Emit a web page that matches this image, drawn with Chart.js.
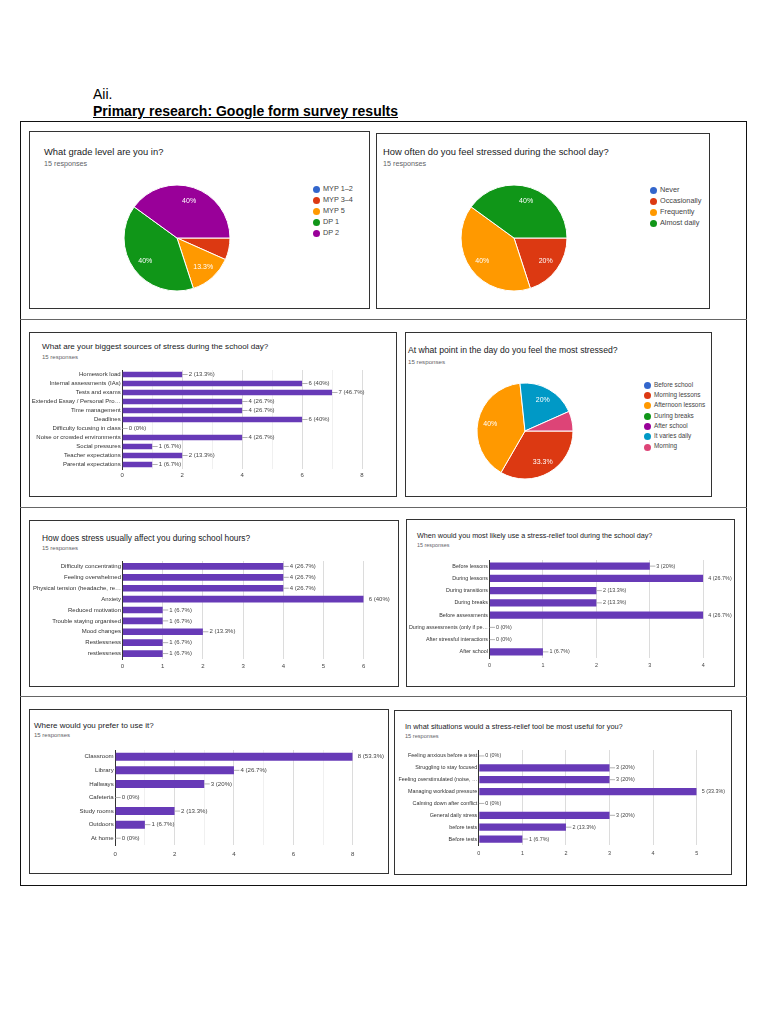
<!DOCTYPE html>
<html>
<head>
<meta charset="utf-8">
<script src="https://cdn.jsdelivr.net/npm/chart.js@4"></script>
<style>
  body { margin: 0; background: #fff; font-family: 'Liberation Sans', Arial, sans-serif; }
  .frame { position: absolute; border: 1.5px solid #111; box-sizing: border-box; }
  .rule { position: absolute; height: 0; border-top: 1.5px solid #666; }
  .box { position: absolute; border: 1.5px solid #333; box-sizing: border-box; background: #fff; }
  .txt { position: absolute; white-space: nowrap; line-height: 1; }
  .ttl { color: #202124; }
  .resp { color: #5f6368; }
  .leg { position: absolute; white-space: nowrap; line-height: 1; color: #444; }
  .dot { position: absolute; border-radius: 50%; }
  canvas { position: absolute; }
</style>
</head>
<body>
<div class="txt" style="left:93px;top:87px;font-size:14px;color:#000">Aii.</div>
<div class="txt" style="left:93px;top:104px;font-size:14px;font-weight:bold;text-decoration:underline;color:#000">Primary research: Google form survey results</div>
<div class="frame" style="left:20px;top:121px;width:727px;height:765px"></div>
<div class="rule" style="left:20px;top:319px;width:727px"></div>
<div class="rule" style="left:20px;top:507px;width:727px"></div>
<div class="rule" style="left:20px;top:696px;width:727px"></div>

<script>
// --- data (15 responses each) ---
const RESPONSES = 15;

const gradeLabels = ['MYP 1–2', 'MYP 3–4', 'MYP 5', 'DP 1', 'DP 2'];
const gradeCounts = [0, 1, 2, 6, 6];

const oftenLabels = ['Never', 'Occasionally', 'Frequently', 'Almost daily'];
const oftenCounts = [0, 3, 6, 6];

const sourceLabels = ['Homework load', 'Internal assessments (IAs)', 'Tests and exams',
  'Extended Essay / Personal Pro…', 'Time management', 'Deadlines', 'Difficulty focusing in class',
  'Noise or crowded environments', 'Social pressures', 'Teacher expectations', 'Parental expectations'];
const sourceCounts = [2, 6, 7, 4, 4, 6, 0, 4, 1, 2, 1];
const sourceTicks = [0, 2, 4, 6, 8];

const whenLabels = ['Before school', 'Morning lessons', 'Afternoon lessons', 'During breaks',
  'After school', 'It varies daily', 'Morning'];
const whenCounts = [0, 5, 6, 0, 0, 3, 1];

const affectLabels = ['Difficulty concentrating', 'Feeling overwhelmed', 'Physical tension (headache, re…',
  'Anxiety', 'Reduced motivation', 'Trouble staying organised', 'Mood changes', 'Restlessness', 'restlessness'];
const affectCounts = [4, 4, 4, 6, 1, 1, 2, 1, 1];
const affectTicks = [0, 1, 2, 3, 4, 5, 6];

const toolTimeLabels = ['Before lessons', 'During lessons', 'During transitions', 'During breaks',
  'Before assessments', 'During assessments (only if pe…', 'After stressful interactions', 'After school'];
const toolTimeCounts = [3, 4, 2, 2, 4, 0, 0, 1];
const toolTimeTicks = [0, 1, 2, 3, 4];

const placeLabels = ['Classroom', 'Library', 'Hallways', 'Cafeteria', 'Study rooms', 'Outdoors', 'At home'];
const placeCounts = [8, 4, 3, 0, 2, 1, 0];
const placeTicks = [0, 2, 4, 6, 8];

const situationLabels = ['Feeling anxious before a test', 'Struggling to stay focused',
  'Feeling overstimulated (noise, …', 'Managing workload pressure', 'Calming down after conflict',
  'General daily stress', 'before tests', 'Before tests'];
const situationCounts = [0, 3, 3, 5, 0, 3, 2, 1];
const situationTicks = [0, 1, 2, 3, 4, 5];

const pieColors = ['#3366cc', '#dc3912', '#ff9900', '#109618', '#990099', '#0099c6', '#dd4477'];
const barColor = '#673ab7';
const FONT = "'Liberation Sans', Arial, sans-serif";

function pct(v) {
  return Math.round(v / RESPONSES * 1000) / 10;
}

function add(cls, html, style) {
  const el = document.createElement('div');
  el.className = cls;
  if (html) el.textContent = html;
  Object.assign(el.style, style);
  document.body.appendChild(el);
  return el;
}

// panel frame + question + "15 responses"
function panel(b) {
  add('box', '', { left: b.x + 'px', top: b.y + 'px', width: b.w + 'px', height: b.h + 'px' });
  add('txt ttl', b.title, { left: b.tx + 'px', top: (b.ty - b.tf / 2) + 'px', fontSize: b.tf + 'px' });
  add('txt resp', RESPONSES + ' responses', { left: b.tx + 'px', top: (b.ry - b.rf / 2) + 'px', fontSize: b.rf + 'px' });
}

function legend(labels, lx, ly, gap, fs) {
  labels.forEach((lab, i) => {
    const y = ly + i * gap;
    add('dot', '', { left: (lx - 3.5) + 'px', top: (y - 3.5) + 'px', width: '7px', height: '7px', background: pieColors[i] });
    add('leg', lab, { left: (lx + 7) + 'px', top: (y - fs / 2 - 0.5) + 'px', fontSize: fs + 'px' });
  });
}

function pieChart(cx, cy, r, labels, counts) {
  const c = document.createElement('canvas');
  const s = 2 * r + 10;
  Object.assign(c.style, { left: (cx - s / 2) + 'px', top: (cy - s / 2) + 'px', width: s + 'px', height: s + 'px' });
  document.body.appendChild(c);
  const labelsPlugin = {
    id: 'sliceLabels',
    afterDatasetsDraw(chart) {
      const ctx = chart.ctx;
      ctx.save();
      ctx.font = '7px ' + FONT;
      ctx.fillStyle = '#fff';
      ctx.textAlign = 'center';
      ctx.textBaseline = 'middle';
      chart.getDatasetMeta(0).data.forEach((arc, i) => {
        if (counts[i] / RESPONSES < 0.1) return;
        const mid = (arc.startAngle + arc.endAngle) / 2;
        const rr = arc.outerRadius * 0.74;
        ctx.fillText(pct(counts[i]) + '%', arc.x + Math.cos(mid) * rr, arc.y + Math.sin(mid) * rr);
      });
      ctx.restore();
    }
  };
  new Chart(c, {
    type: 'pie',
    data: { labels, datasets: [{ data: counts, backgroundColor: pieColors.slice(0, labels.length), borderColor: '#fff', borderWidth: 1, hoverOffset: 0 }] },
    options: {
      responsive: false, animation: false, rotation: 90,
      layout: { padding: 4.5 },
      plugins: { legend: { display: false }, tooltip: { enabled: false } }
    },
    plugins: [labelsPlugin]
  });
}

function barChart(b, g, labels, counts, ticks) {
  const c = document.createElement('canvas');
  const cl = b.x + 1.5, ct = b.y + 2, cw = b.w - 3.5, ch = b.h - 4;
  Object.assign(c.style, { left: cl + 'px', top: ct + 'px', width: cw + 'px', height: ch + 'px' });
  c.width = cw; c.height = ch;
  document.body.appendChild(c);
  const xH = 16;
  const max = ticks[ticks.length - 1];
  const valueLabels = {
    id: 'valueLabels',
    afterDatasetsDraw(chart) {
      const ctx = chart.ctx;
      ctx.save();
      ctx.font = g.fs + 'px ' + FONT;
      ctx.fillStyle = '#444';
      ctx.strokeStyle = '#9e9e9e';
      ctx.lineWidth = 0.8;
      ctx.textBaseline = 'middle';
      chart.getDatasetMeta(0).data.forEach((bar, i) => {
        const v = counts[i];
        const text = v + ' (' + pct(v) + '%)';
        let tx = bar.x + 5;
        if (v !== max) {
          ctx.beginPath();
          ctx.moveTo(bar.x, bar.y);
          ctx.lineTo(bar.x + 5.5, bar.y);
          ctx.stroke();
          tx = bar.x + 6.5;
        }
        ctx.fillText(text, tx, bar.y);
      });
      ctx.restore();
    }
  };
  new Chart(c, {
    type: 'bar',
    data: { labels, datasets: [{ data: counts, backgroundColor: barColor, barPercentage: g.bar, categoryPercentage: 1 }] },
    options: {
      indexAxis: 'y', responsive: false, animation: false,
      layout: { padding: { left: 0, top: g.top - ct, right: cl + cw - g.x1, bottom: ct + ch - g.bottom - xH } },
      plugins: { legend: { display: false }, tooltip: { enabled: false } },
      scales: {
        x: {
          min: 0, max: max,
          afterFit(scale) { scale.height = xH; },
          border: { display: false },
          grid: {
            drawTicks: false, lineWidth: 1,
            color: ctx => ticks.includes(ctx.tick.value) ? '#dcdcdc' : '#f0f0f0'
          },
          ticks: {
            stepSize: 1, padding: g.tg, color: '#444', autoSkip: false, maxRotation: 0,
            font: { family: FONT, size: g.fs },
            callback: v => ticks.includes(v) ? v : ''
          }
        },
        y: {
          afterFit(scale) { scale.width = g.x0 - cl; },
          border: { display: true, color: '#333', width: 1 },
          grid: { display: false, drawTicks: false },
          ticks: { padding: 1.5, color: '#333', autoSkip: false, font: { family: FONT, size: g.fs } }
        }
      }
    },
    plugins: [valueLabels]
  });
}

// --- layout ---
const p1 = { x: 29, y: 131, w: 341, h: 178, title: 'What grade level are you in?', tx: 44, ty: 152, tf: 9.4, ry: 163.5, rf: 7.2 };
const p2 = { x: 376, y: 133, w: 334, h: 176, title: 'How often do you feel stressed during the school day?', tx: 383, ty: 152, tf: 9.4, ry: 164, rf: 7.2 };
const p3 = { x: 29, y: 332, w: 368, h: 165, title: 'What are your biggest sources of stress during the school day?', tx: 42, ty: 347, tf: 8.1, ry: 357, rf: 6 };
const p4 = { x: 405, y: 332, w: 307, h: 165, title: 'At what point in the day do you feel the most stressed?', tx: 408, ty: 350, tf: 8.65, ry: 362, rf: 6.2 };
const p5 = { x: 29, y: 520, w: 370, h: 167, title: 'How does stress usually affect you during school hours?', tx: 42, ty: 538, tf: 8.35, ry: 548, rf: 6 };
const p6 = { x: 406, y: 519, w: 329, h: 168, title: 'When would you most likely use a stress-relief tool during the school day?', tx: 417, ty: 536, tf: 7.2, ry: 546, rf: 5.4 };
const p7 = { x: 29, y: 709, w: 360, h: 165, title: 'Where would you prefer to use it?', tx: 34, ty: 726, tf: 8, ry: 735, rf: 6 };
const p8 = { x: 394, y: 710, w: 338, h: 165, title: 'In what situations would a stress-relief tool be most useful for you?', tx: 405, ty: 727, tf: 7.4, ry: 737, rf: 5.6 };
[p1, p2, p3, p4, p5, p6, p7, p8].forEach(panel);

pieChart(176.5, 237.5, 53, gradeLabels, gradeCounts);
legend(gradeLabels, 316, 189, 11, 7.3);

pieChart(514, 238, 53, oftenLabels, oftenCounts);
legend(oftenLabels, 653, 190, 11, 7.3);

pieChart(525, 430.5, 48, whenLabels, whenCounts);
legend(whenLabels, 647, 385.3, 10.3, 6.4);

barChart(p3, { x0: 121.7, x1: 362, top: 370, bottom: 469, tg: 3, bar: 0.63, fs: 6 }, sourceLabels, sourceCounts, sourceTicks);
barChart(p5, { x0: 122, x1: 363.7, top: 561, bottom: 659, tg: 3.5, bar: 0.61, fs: 6 }, affectLabels, affectCounts, affectTicks);
barChart(p6, { x0: 489, x1: 703.3, top: 560, bottom: 658, tg: 4, bar: 0.6, fs: 5.4 }, toolTimeLabels, toolTimeCounts, toolTimeTicks);
barChart(p7, { x0: 114.7, x1: 352.7, top: 750, bottom: 845, tg: 5.5, bar: 0.59, fs: 6.1 }, placeLabels, placeCounts, placeTicks);
barChart(p8, { x0: 478.3, x1: 696.7, top: 750, bottom: 845, tg: 5, bar: 0.61, fs: 5.4 }, situationLabels, situationCounts, situationTicks);
</script>
</body>
</html>
